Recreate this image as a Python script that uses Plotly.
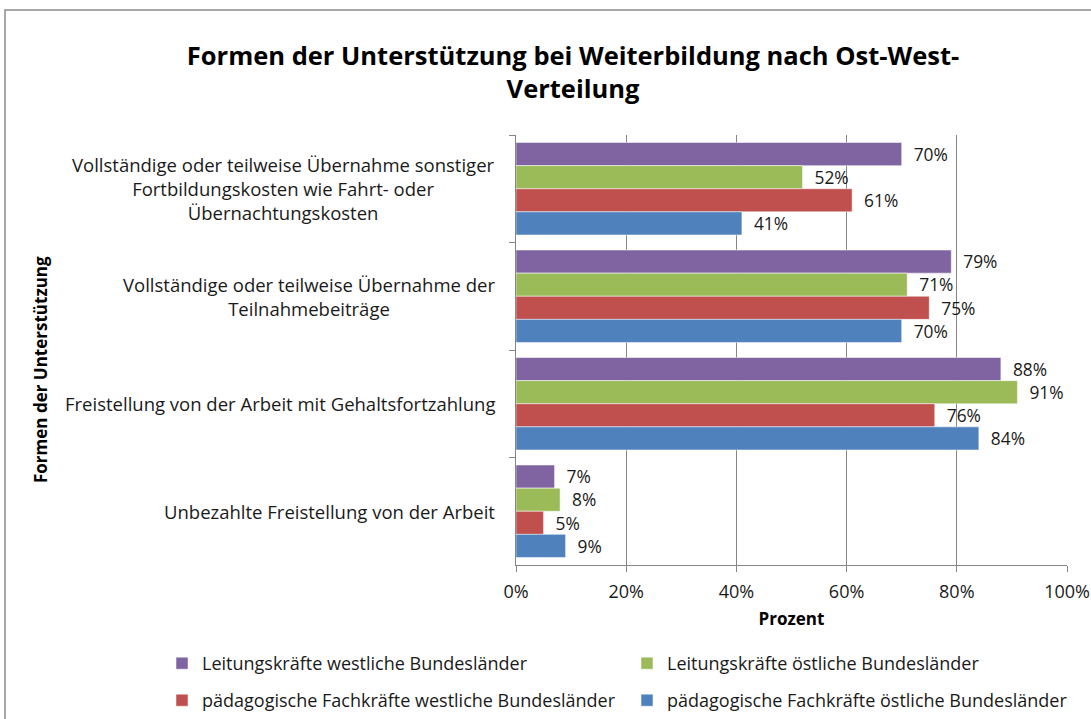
import plotly.graph_objects as go

# categories, top to bottom
kategorien = [
    "Vollständige oder teilweise Übernahme sonstiger<br>Fortbildungskosten wie Fahrt- oder<br>Übernachtungskosten",
    "Vollständige oder teilweise Übernahme der<br>Teilnahmebeiträge",
    "Freistellung von der Arbeit mit Gehaltsfortzahlung",
    "Unbezahlte Freistellung von der Arbeit",
]
cat_ids = ["k1", "k2", "k3", "k4"]

serien = [
    "Leitungskräfte westliche Bundesländer",
    "Leitungskräfte östliche Bundesländer",
    "pädagogische Fachkräfte westliche Bundesländer",
    "pädagogische Fachkräfte östliche Bundesländer",
]
leitung_west = [0.70, 0.79, 0.88, 0.07]
leitung_ost = [0.52, 0.71, 0.91, 0.08]
paed_west = [0.61, 0.75, 0.76, 0.05]
paed_ost = [0.41, 0.70, 0.84, 0.09]
werte = [leitung_west, leitung_ost, paed_west, paed_ost]
farben = ["#8064A2", "#9BBB59", "#C0504D", "#4F81BD"]
legenden = ["legend", "legend", "legend2", "legend2"]

FONT = "Open Sans"
TXT = "#1a1a1a"

fig = go.Figure()
for name, vals, col, lg in zip(serien, werte, farben, legenden):
    fig.add_trace(go.Bar(
        y=cat_ids, x=vals, name=name, orientation="h", legend=lg,
        marker=dict(color=col, line=dict(color="white", width=0.5)),
        text=["  {:.0%}".format(v) for v in vals],
        textposition="outside", cliponaxis=False,
        textfont=dict(size=18, color=TXT, family=FONT),
    ))

# centered category labels
for cid, lab in zip(cat_ids, kategorien):
    fig.add_annotation(x=-0.0345, xref="paper", y=cid, yref="y", text=lab,
                       showarrow=False, xanchor="right", align="center",
                       font=dict(size=18.5, color=TXT, family=FONT))

# y-axis title
fig.add_annotation(x=(40 - 516) / 551, xref="paper", y=(565 - 370) / 430, yref="paper",
                   text="<b>Formen der Unterstützung</b>", textangle=-90, showarrow=False,
                   xanchor="center", yanchor="middle",
                   font=dict(size=17, color="black", family=FONT))

# outer frame
fig.add_shape(type="rect", xref="paper", yref="paper",
              x0=(5 - 516) / 551, x1=(1100 - 516) / 551,
              y0=(565 - 730) / 430, y1=(565 - 10) / 430,
              line=dict(color="#8c8c8c", width=1.5), fillcolor="rgba(0,0,0,0)")

leg_common = dict(orientation="h", x=(162 - 516) / 551, xanchor="left", yanchor="top",
                  entrywidth=420, entrywidthmode="pixels",
                  font=dict(size=18, family=FONT, color=TXT))

fig.update_layout(
    width=1091, height=719,
    margin=dict(l=516, r=24, t=135, b=154, autoexpand=False),
    paper_bgcolor="white", plot_bgcolor="white",
    font=dict(family=FONT, color=TXT),
    title=dict(text="<b>Formen der Unterstützung bei Weiterbildung nach Ost-West-<br>Verteilung</b>",
               x=573 / 1091, xanchor="center", y=1 - 65 / 719, yanchor="top",
               font=dict(size=25.5, color="black", family=FONT)),
    barmode="group", bargap=0.14, bargroupgap=0,
    showlegend=True,
    legend=dict(y=(565 - 645) / 430, **leg_common),
    legend2=dict(y=(565 - 682) / 430, **leg_common),
    xaxis=dict(range=[0, 1], dtick=0.2, tickformat=".0%",
               showgrid=True, gridcolor="#868686", gridwidth=1,
               showline=True, linecolor="#868686", linewidth=1,
               ticks="outside", ticklen=6, tickcolor="#868686",
               ticklabelstandoff=4, zeroline=False,
               tickfont=dict(size=18, family=FONT, color=TXT),
               title=dict(text="<b>Prozent</b>", standoff=11,
                          font=dict(size=17, family=FONT, color="black"))),
    yaxis=dict(categoryorder="array", categoryarray=cat_ids, autorange="reversed",
               showline=True, linecolor="#868686", linewidth=1,
               ticks="outside", ticklen=6, tickcolor="#868686",
               tickson="boundaries", showticklabels=False, showgrid=False),
)

fig.write_html("out.html", config={"displayModeBar": False},
               post_script="document.body.style.margin='0px';")
